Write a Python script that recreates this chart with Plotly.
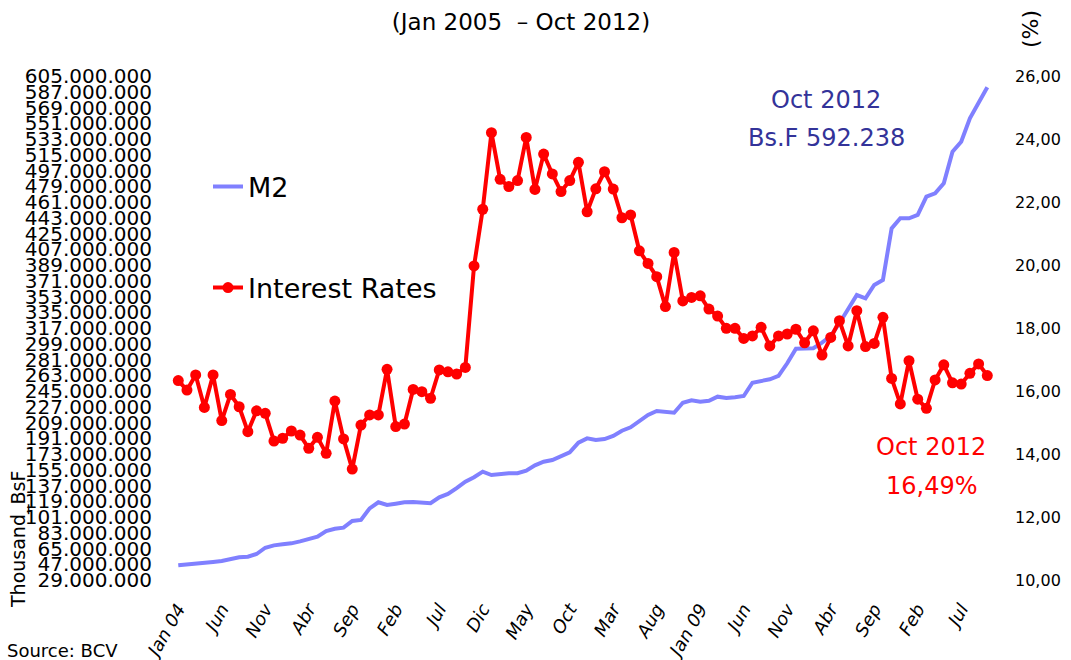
import plotly.graph_objects as go
import numpy as np

# ---------------- data ----------------
tick_labels = ["Jan 04", "Jun", "Nov", "Abr", "Sep", "Feb", "Jul", "Dic", "May", "Oct",
               "Mar", "Aug", "Jan 09", "Jun", "Nov", "Abr", "Sep", "Feb", "Jul"]
tick_positions = list(range(0, 91, 5))

months = list(range(94))

# M2, millions of BsF (axis shows thousand BsF)
m2_millions = [
    45.8, 46.5, 47.3, 48.4, 49.6, 50.7, 53.0, 54.9, 55.6, 58.7,
    65.9, 68.6, 69.8, 70.9, 73.2, 75.9, 78.5, 85.0, 87.6, 88.8,
    96.4, 97.6, 110.9, 117.8, 114.7, 116.2, 117.8, 118.1, 117.0, 116.7,
    123.5, 127.3, 134.0, 141.3, 146.4, 152.8, 149.0, 150.5, 151.0, 151.0,
    153.9, 160.1, 164.2, 166.1, 170.4, 174.9, 185.9, 190.9, 189.0, 190.1,
    193.6, 199.6, 203.5, 210.4, 217.6, 222.2, 220.7, 220.2, 231.6, 234.4,
    232.8, 233.9, 238.5, 237.0, 237.8, 239.3, 254.5, 256.1, 258.4, 262.2,
    276.7, 293.4, 293.8, 293.8, 300.2, 307.9, 322.4, 339.5, 354.7, 351.0,
    366.2, 371.9, 430.9, 442.4, 442.4, 446.2, 467.1, 471.0, 482.4, 518.5,
    529.9, 556.7, 575.7, 592.238,
]

interest_rates = [
    16.33, 16.03, 16.51, 15.48, 16.51, 15.06, 15.89, 15.50, 14.71, 15.37,
    15.29, 14.41, 14.50, 14.73, 14.60, 14.18, 14.53, 14.02, 15.68, 14.48,
    13.52, 14.92, 15.24, 15.24, 16.69, 14.87, 14.95, 16.05, 15.98, 15.77,
    16.67, 16.61, 16.54, 16.75, 19.97, 21.77, 24.20, 22.72, 22.49, 22.68,
    24.05, 22.40, 23.52, 22.89, 22.33, 22.68, 23.26, 21.69, 22.42, 22.96,
    22.41, 21.50, 21.59, 20.45, 20.05, 19.63, 18.68, 20.40, 18.86, 18.97,
    19.02, 18.60, 18.38, 17.99, 17.99, 17.67, 17.75, 18.02, 17.43, 17.75,
    17.81, 17.96, 17.53, 17.91, 17.14, 17.70, 18.23, 17.43, 18.55, 17.41,
    17.51, 18.34, 16.40, 15.59, 16.96, 15.74, 15.45, 16.35, 16.83, 16.26,
    16.22, 16.56, 16.86, 16.49,
]

m2_thousand = (np.array(m2_millions) * 1000000).tolist()

# ---------------- layout helpers ----------------
W, H = 1071, 660
L, R, T, B = 160, 75, 76, 80


def px(x):
    return (x - L) / (W - L - R)


def py(y):
    return (H - B - y) / (H - T - B)


FONT = "DejaVu Sans"

fig = go.Figure()
fig.add_trace(go.Scatter(
    x=months, y=m2_thousand, name="M2", mode="lines",
    line=dict(color="#8080FF", width=4), legend="legend", showlegend=True,
))
fig.add_trace(go.Scatter(
    x=months, y=interest_rates, name="Interest Rates", mode="lines+markers",
    line=dict(color="#FF0000", width=4),
    marker=dict(size=11, color="#FF0000"),
    yaxis="y2", legend="legend2", showlegend=True,
))

annotations = [
    dict(text="Oct 2012", x=px(826), y=py(100), font=dict(size=24, color="#333399")),
    dict(text="Bs.F 592.238", x=px(826), y=py(138), font=dict(size=24, color="#333399")),
    dict(text="Oct 2012", x=px(931), y=py(447), font=dict(size=24, color="#FF0000")),
    dict(text="16,49%", x=px(932), y=py(486), font=dict(size=24, color="#FF0000")),
    dict(text="(%)", x=px(1030), y=py(29), textangle=-90, font=dict(size=22, color="black")),
    dict(text="Thousand_BsF", x=px(18), y=py(540), textangle=-90, font=dict(size=19, color="black")),
    dict(text="Source: BCV", x=px(62), y=py(650), font=dict(size=18, color="black")),
]
for a in annotations:
    a.update(xref="paper", yref="paper", showarrow=False, xanchor="center", yanchor="middle")

fig.update_layout(
    width=W, height=H,
    margin=dict(l=L, r=R, t=T, b=B, pad=0, autoexpand=False),
    plot_bgcolor="white", paper_bgcolor="white",
    font=dict(family=FONT, color="black"),
    separators=",.",
    showlegend=True,
    title=dict(text="(Jan 2005\u00a0 – Oct 2012)", x=521 / W, xanchor="center",
               y=1 - 22 / H, yanchor="middle", font=dict(size=23, color="black")),
    xaxis=dict(range=[-2.1, 94.0], tickmode="array", tickvals=tick_positions,
               ticktext=["<i>" + t + "</i>" for t in tick_labels],
               tickangle=-60, tickfont=dict(size=18, color="black"), automargin=False,
               showgrid=False, zeroline=False, showline=False, ticks="", ticklabelstandoff=14),
    yaxis=dict(range=[29e6, 605e6], tick0=29e6, dtick=18e6, tickformat=",d", automargin=False,
               tickfont=dict(size=20, color="black"), showgrid=False, zeroline=False,
               showline=False, ticks="", ticklabelstandoff=7),
    yaxis2=dict(overlaying="y", side="right", range=[10, 26], tick0=10, dtick=2, tickformat=".2f",
                tickfont=dict(size=16, color="black"), showgrid=False, zeroline=False, automargin=False,
                showline=False, ticks="", ticklabelstandoff=18),
    legend=dict(x=px(208), y=py(187), xanchor="left", yanchor="middle",
                font=dict(size=27, color="black"), bgcolor="rgba(0,0,0,0)", itemwidth=30),
    legend2=dict(x=px(208), y=py(288), xanchor="left", yanchor="middle",
                 font=dict(size=27, color="black"), bgcolor="rgba(0,0,0,0)", itemwidth=30),
    annotations=annotations,
)

fig.write_html("out.html", config={"displayModeBar": False},
               post_script="document.body.style.margin='0';")
